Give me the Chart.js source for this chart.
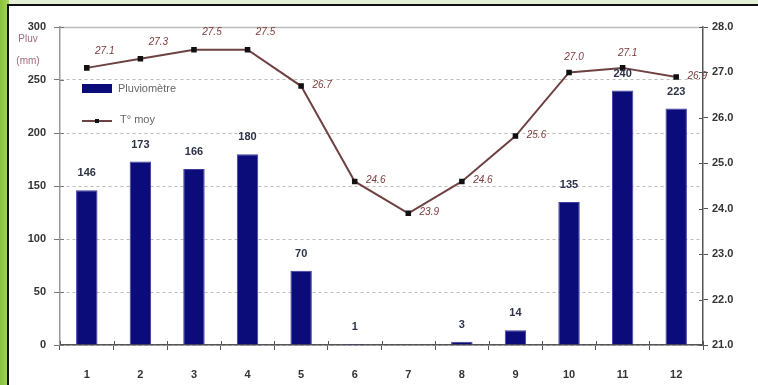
<!DOCTYPE html>
<html>
<head>
<meta charset="utf-8">
<script src="https://cdn.jsdelivr.net/npm/chart.js@4/dist/chart.umd.min.js"></script>
<style>
  html, body { margin: 0; padding: 0; width: 758px; height: 385px; overflow: hidden; }
  body { position: relative; background: linear-gradient(#e4f1d8, #d6ebc0); }
  #side { position: absolute; left: 0; top: 0; width: 9px; height: 385px; background: linear-gradient(to right, #86c23a, #a8d65c); }
  #frame { position: absolute; left: 7px; top: 4px; width: 760px; height: 390px; background: #fff;
           border-left: 2px solid #111; border-top: 2px solid #111; box-sizing: border-box; }
  #wrap { position: absolute; left: 0; top: 0; width: 758px; height: 385px; }
</style>
</head>
<body>
<div id="side"></div>
<div id="frame"></div>
<div id="wrap"><canvas id="c" width="758" height="385"></canvas></div>
<script>
// Monthly rainfall (mm) and mean temperature (°C)
const months = ['1', '2', '3', '4', '5', '6', '7', '8', '9', '10', '11', '12'];
const rainfall = [146, 173, 166, 180, 70, 1, null, 3, 14, 135, 240, 223];
const meanTemp = [27.1, 27.3, 27.5, 27.5, 26.7, 24.6, 23.9, 24.6, 25.6, 27.0, 27.1, 26.9];
const rainTicks = [0, 50, 100, 150, 200, 250, 300];
const tempTicks = [21, 22, 23, 24, 25, 26, 27, 28];
// where each temperature label sits relative to its point
const tempLabelSide = ['ne', 'ne', 'ne', 'ne', 'e', 'e', 'e', 'e', 'e', 'n', 'n', 'e'];

const FONT = '"Liberation Sans", Arial, sans-serif';
const BAR_COLOR = '#0b0b7a';
const LINE_COLOR = '#6e4242';

const decorations = {
  id: 'decorations',
  beforeDatasetsDraw(chart) {
    const { ctx, chartArea: a, scales } = chart;
    ctx.save();
    // solid frame line along the top of the plot
    ctx.strokeStyle = '#bdbdbd';
    ctx.lineWidth = 1.5;
    ctx.beginPath();
    ctx.moveTo(a.left, a.top + 0.5);
    ctx.lineTo(a.right, a.top + 0.5);
    ctx.stroke();
    // inner halves of the tick marks, so they cross each axis
    ctx.lineWidth = 1;
    ctx.strokeStyle = '#777';
    ctx.beginPath();
    scales.y.ticks.forEach(t => {
      const y = Math.round(scales.y.getPixelForValue(t.value)) + 0.5;
      ctx.moveTo(a.left, y); ctx.lineTo(a.left + 4, y);
    });
    ctx.stroke();
    ctx.strokeStyle = '#555';
    ctx.beginPath();
    scales.y1.ticks.forEach(t => {
      const y = Math.round(scales.y1.getPixelForValue(t.value)) + 0.5;
      ctx.moveTo(a.right - 4, y); ctx.lineTo(a.right, y);
    });
    const xs = scales.x;
    for (let i = 0; i <= months.length; i++) {
      const x = Math.round(xs.getPixelForValue(i - 0.5)) + 0.5;
      ctx.moveTo(x, a.bottom - 4); ctx.lineTo(x, a.bottom);
    }
    ctx.stroke();
    ctx.restore();
  },
  afterDatasetsDraw(chart) {
    const { ctx } = chart;
    ctx.save();
    // values above the bars
    const barMeta = chart.getDatasetMeta(0);
    ctx.font = 'bold 11px ' + FONT;
    ctx.fillStyle = '#2d3447';
    ctx.textAlign = 'center';
    ctx.textBaseline = 'middle';
    barMeta.data.forEach((el, i) => {
      const v = rainfall[i];
      if (v === null || v === undefined) return;
      ctx.fillText(String(v), el.x, el.y - 17);
    });
    // temperature labels
    const lineMeta = chart.getDatasetMeta(1);
    ctx.font = 'italic 10px ' + FONT;
    ctx.fillStyle = '#7d3a3a';
    const offs = { ne: [18, -17], n: [5, -15], e: [21, -1] };
    lineMeta.data.forEach((el, i) => {
      const o = offs[tempLabelSide[i]];
      ctx.fillText(meanTemp[i].toFixed(1), el.x + o[0], el.y + o[1]);
    });
    // axis caption
    ctx.font = '10px ' + FONT;
    ctx.fillStyle = '#a06a7a';
    ctx.fillText('Pluv', 28, 39);
    ctx.fillText('(mm)', 28, 61);
    // legend
    const ds = chart.data.datasets;
    ctx.fillStyle = BAR_COLOR;
    ctx.fillRect(82, 84, 30, 9);
    ctx.strokeStyle = LINE_COLOR;
    ctx.lineWidth = 2;
    ctx.beginPath();
    ctx.moveTo(82, 121);
    ctx.lineTo(112, 121);
    ctx.stroke();
    ctx.fillStyle = '#111';
    ctx.fillRect(95, 119, 4, 4);
    ctx.font = '11px ' + FONT;
    ctx.fillStyle = '#666';
    ctx.textAlign = 'left';
    ctx.fillText(ds[0].label, 118, 89);
    ctx.fillText(ds[1].label, 120, 120);
    ctx.restore();
  }
};

new Chart(document.getElementById('c'), {
  data: {
    labels: months,
    datasets: [
      {
        type: 'bar',
        label: 'Pluviomètre',
        data: rainfall,
        yAxisID: 'y',
        backgroundColor: BAR_COLOR,
        borderColor: '#3f3fa0',
        borderWidth: 1,
        categoryPercentage: 1,
        barPercentage: 0.4,
        order: 2
      },
      {
        type: 'line',
        label: 'T° moy',
        data: meanTemp,
        yAxisID: 'y1',
        borderColor: LINE_COLOR,
        borderWidth: 2,
        pointStyle: 'rect',
        pointRadius: 2.5,
        pointBackgroundColor: '#111',
        pointBorderColor: '#111',
        tension: 0,
        order: 1
      }
    ]
  },
  options: {
    responsive: false,
    animation: false,
    layout: { padding: { top: 27, left: 0, right: 0, bottom: 0 } },
    plugins: { legend: { display: false }, tooltip: { enabled: false } },
    scales: {
      x: {
        offset: true,
        grid: { offset: true, drawOnChartArea: false, tickLength: 5, tickColor: '#555' },
        border: { color: '#555', width: 1.5 },
        ticks: { color: '#333', font: { family: FONT, size: 11, weight: 'bold' }, padding: 18, maxRotation: 0 },
        afterFit(s) { s.height = 40; }
      },
      y: {
        position: 'left',
        min: 0,
        max: 300,
        afterBuildTicks(s) { s.ticks = rainTicks.map(v => ({ value: v })); },
        grid: { color: '#bcbcbc', lineWidth: 1, tickLength: 6, tickColor: '#777' },
        border: { color: '#999', width: 1.5, dash: [3, 3] },
        ticks: { color: '#333', font: { family: FONT, size: 11, weight: 'bold' }, padding: 8 },
        afterFit(s) { s.width = 60; }
      },
      y1: {
        position: 'right',
        min: 21,
        max: 28,
        afterBuildTicks(s) { s.ticks = tempTicks.map(v => ({ value: v })); },
        grid: { drawOnChartArea: false, tickLength: 5, tickColor: '#555' },
        border: { color: '#555', width: 1.5 },
        ticks: { color: '#333', font: { family: FONT, size: 11, weight: 'bold' }, padding: 4,
                 callback: v => Number(v).toFixed(1) },
        afterFit(s) { s.width = 55; }
      }
    }
  },
  plugins: [decorations]
});
</script>
</body>
</html>
